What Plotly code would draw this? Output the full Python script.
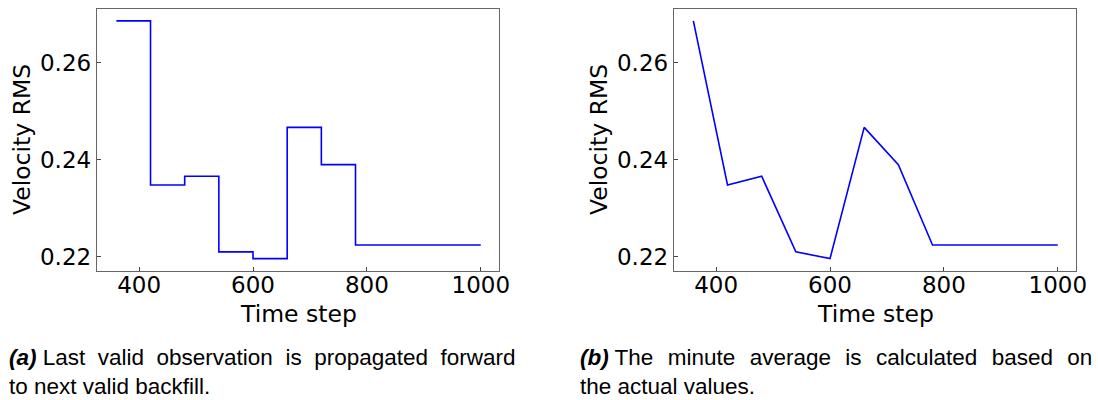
import plotly.graph_objects as go

# Minute-sampled velocity RMS values
time_step = [360, 420, 480, 540, 600, 660, 720, 780, 1000]
velocity_rms = [0.2687, 0.2348, 0.2366, 0.2210, 0.2196, 0.2467, 0.2390, 0.2224, 0.2224]

x_ticks = [400, 600, 800, 1000]
y_ticks = [0.22, 0.24, 0.26]
y_tick_text = ["0.22", "0.24", "0.26"]

x_range = [326, 1032]
y_range = [0.21704, 0.27115]

NB = "\u00a0"   # extra word spacing for the justified first caption lines
HS = "\u200a"
caption_a = ("<b><i>(a)</i></b> " + (" " + NB).join(["Last", "valid", "observation", "is", "propagated", "forward"])
             + "<br>to next valid backfill.")
caption_b = ("<b><i>(b)</i></b> " + (" " + NB + HS).join(["The", "minute", "average", "is", "calculated", "based", "on"])
             + "<br>the actual values.")

W, H = 1098, 400
fig = go.Figure()

# left panel: forward-filled (step) series
fig.add_trace(go.Scatter(x=time_step, y=velocity_rms, mode="lines",
                         line=dict(color="#0000ff", width=1.6, shape="hv"),
                         xaxis="x", yaxis="y", showlegend=False))
# right panel: straight segments between the averages
fig.add_trace(go.Scatter(x=time_step, y=velocity_rms, mode="lines",
                         line=dict(color="#0000ff", width=1.6),
                         xaxis="x2", yaxis="y2", showlegend=False))

tick_font = dict(family="DejaVu Sans", size=23, color="black")
ax_common = dict(showline=True, linecolor="#666666", linewidth=1.4, mirror=True,
                 ticks="inside", ticklen=4, tickwidth=1, tickcolor="#444444",
                 showgrid=False, zeroline=False, tickfont=tick_font, automargin=False)

panels = [(97, 499), (674, 1076)]
y_dom = [1 - 271 / H, 1 - 9 / H]
fig.update_layout(
    width=W, height=H,
    margin=dict(l=0, r=0, t=0, b=0),
    paper_bgcolor="white", plot_bgcolor="white",
    xaxis=dict(domain=[panels[0][0] / W, panels[0][1] / W], range=x_range, tickvals=x_ticks,
               anchor="y", ticklabelstandoff=-7, **ax_common),
    yaxis=dict(domain=y_dom, range=y_range, tickvals=y_ticks, ticktext=y_tick_text, anchor="x", **ax_common),
    xaxis2=dict(domain=[panels[1][0] / W, panels[1][1] / W], range=x_range, tickvals=x_ticks,
                anchor="y2", ticklabelstandoff=-7, **ax_common),
    yaxis2=dict(domain=y_dom, range=y_range, tickvals=y_ticks, ticktext=y_tick_text, anchor="x2", **ax_common),
)

title_font = dict(family="DejaVu Sans", size=23.5, color="black")
caption_font = dict(family="Liberation Sans", size=22.5, color="black")
annotations = []
for x0, x1 in panels:
    annotations.append(dict(text="Time step", x=(x0 + x1) / 2 / W, y=1 - 314 / H, xref="paper", yref="paper",
                            xanchor="center", yanchor="middle", showarrow=False, font=title_font))
    annotations.append(dict(text="Velocity RMS", x=(x0 - 75) / W, y=1 - 140 / H, xref="paper", yref="paper",
                            xanchor="center", yanchor="middle", textangle=-90, showarrow=False, font=title_font))
annotations.append(dict(text=caption_a, x=7 / W, y=1 - 343 / H, xref="paper", yref="paper",
                        xanchor="left", yanchor="top", align="left", showarrow=False, font=caption_font))
annotations.append(dict(text=caption_b, x=578 / W, y=1 - 343 / H, xref="paper", yref="paper",
                        xanchor="left", yanchor="top", align="left", showarrow=False, font=caption_font))
fig.update_layout(annotations=annotations)

fig.write_html("out.html")
